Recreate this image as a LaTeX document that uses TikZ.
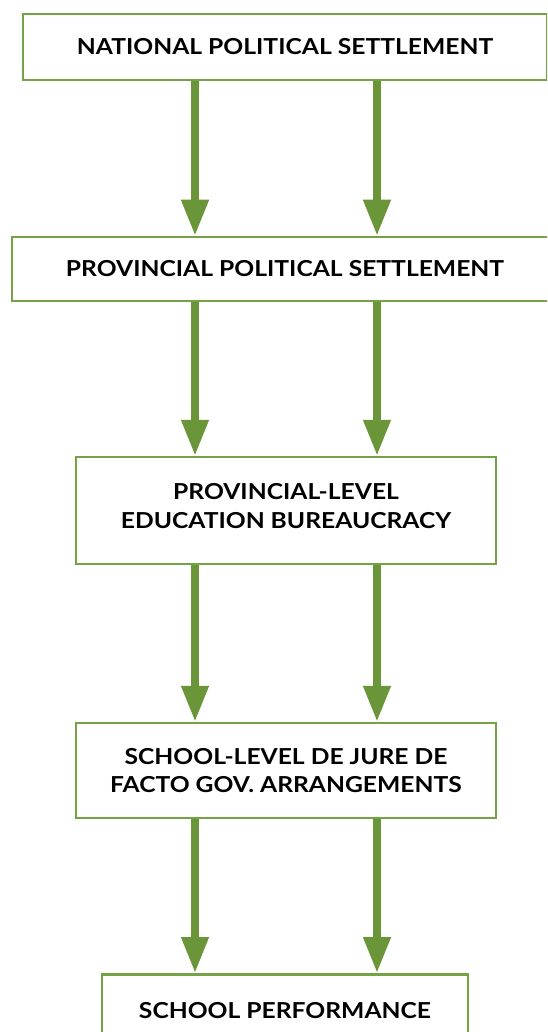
\documentclass[tikz,border=0pt]{standalone}
\usepackage{fontspec}
\setmainfont[FakeStretch=1.12]{Lato}
\usetikzlibrary{arrows.meta}
\definecolor{arrgreen}{RGB}{106,150,57}
\definecolor{boxgreen}{RGB}{118,162,70}
\begin{document}
\begin{tikzpicture}[x=1pt,y=-1pt,
  box/.style={draw=boxgreen, line width=2.5pt, fill=white, inner sep=0pt, align=center,
    font=\fontsize{22}{28.5}\selectfont\bfseries, text=black},
  arr/.style={draw=arrgreen, line width=7.5pt, -{Triangle[length=36pt,width=26pt]}}]
\useasboundingbox (0,0) rectangle (547,1032);
\clip (0,0) rectangle (547,1032);
\node[box, minimum width=524pt, minimum height=66pt] (b1) at (285,47) {NATIONAL POLITICAL SETTLEMENT};
\node[box, minimum width=546pt, minimum height=64pt] (b2) at (285,269) {PROVINCIAL POLITICAL SETTLEMENT};
\node[box, minimum width=420pt, minimum height=107pt] (b3) at (286,510.5) {PROVINCIAL-LEVEL\\EDUCATION BUREAUCRACY\\[-19.5pt]\mbox{}};
\node[box, minimum width=420pt, minimum height=95pt] (b4) at (286,770.5) {SCHOOL-LEVEL DE JURE DE\\FACTO GOV. ARRANGEMENTS};
\node[box, minimum width=366pt, minimum height=72pt, anchor=north] (b5) at (285,973) {SCHOOL PERFORMANCE};
\foreach \a/\b in {b1/b2,b2/b3,b3/b4,b4/b5}{
  \draw[arr] (\a.south -| 195,0) -- (\b.north -| 195,0);
  \draw[arr] (\a.south -| 377,0) -- (\b.north -| 377,0);
}
\end{tikzpicture}
\end{document}
